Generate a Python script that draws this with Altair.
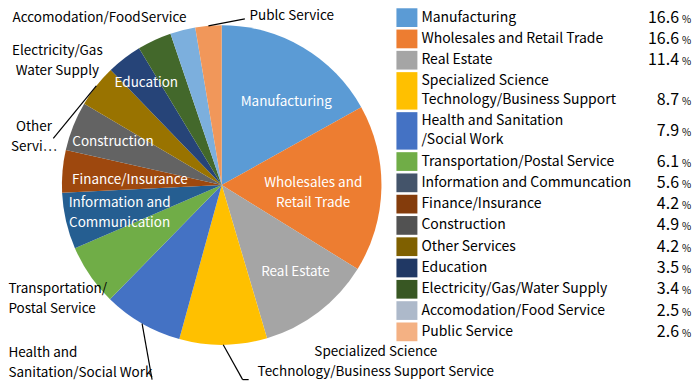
import altair as alt
import pandas as pd

# ---------------- data ----------------
categories = [
    "Manufacturing", "Wholesales and Retail Trade", "Real Estate",
    "Specialized Science Technology/Business Support", "Health and Sanitation/Social Work",
    "Transportation/Postal Service", "Information and Communcation", "Finance/Insurance",
    "Construction", "Other Services", "Education", "Electricity/Gas/Water Supply",
    "Accomodation/Food Service", "Public Service",
]
values = [16.6, 16.6, 11.4, 8.7, 7.9, 6.1, 5.6, 4.2, 4.9, 4.2, 3.5, 3.4, 2.5, 2.6]
legend_labels = [
    "Manufacturing", "Wholesales and Retail Trade", "Real Estate",
    "Specialized Science\nTechnology/Business Support", "Health and Sanitation\n/Social Work",
    "Transportation/Postal Service", "Information and Communcation", "Finance/Insurance",
    "Construction", "Other Services", "Education", "Electricity/Gas/Water Supply",
    "Accomodation/Food Service", "Public Service",
]
pie_labels = [
    "Manufacturing", "Wholesales and\nRetail Trade", "Real Estate",
    "Specialized Science\nTechnology/Business Support Service", "Health and\nSanitation/Social Work",
    "Transportation/\nPostal Service", "Information and\nCommunication", "Finance/Insurance",
    "Construction", "Other\nServi\u2026", "Education", "Electricity/Gas\nWater Supply",
    "Accomodation/FoodService", "Publc Service",
]
pie_colors = ["#5B9BD5", "#ED7D31", "#A5A5A5", "#FFC000", "#4472C4", "#70AD47", "#255E91",
              "#9E480E", "#636363", "#997300", "#264478", "#43682B", "#7CAFDD", "#F1975A"]
legend_colors = ["#5B9BD5", "#ED7D31", "#A5A5A5", "#FFC000", "#4472C4", "#70AD47", "#44546A",
                 "#843C0C", "#525252", "#7F6000", "#203864", "#385723", "#ADB9CA", "#F4B183"]

# ---------------- styles (label placement relative to slice middle) ----------------
# kind: in = white inside label, out = centred outside label, outl = left-aligned outside label
label_kind = ["in", "in", "in", "out", "outl", "outl", "in", "in", "in", "out", "in", "out", "out", "out"]
label_off = [7.6, 3.7, -3.0, -40.5, 20.3, 6.4, -2.4, -1.85, -0.1, -24.0, 1.1, -28.1, -22.1, 27.3]
label_rad = [105, 92, 114, 235, 278, 242, 106, 92, 117, 194, 127, 206, 207, 183]
leader_off = [0, 0, 0, -5.6, -10.2, 0, 0, 0, 0, -22.8, 0, 0, 0, 12.7]
leader_rad = [0, 0, 0, 196, 207, 0, 0, 0, 0, 175, 0, 0, 0, 168]
leader_tail = [0, 0, 0, 6, 0, 0, 0, 0, 0, 0, 0, 0, 0, 0]
pct_bottom = [0, 0, 0, 1, 0, 0, 0, 0, 0, 0, 0, 0, 0, 0]

CX, CY, R = 214, 177, 160
FONT = "Noto Sans CJK JP"
PIE_LH = 20      # line height of pie labels
LEG_LH = 19      # line height of legend labels

df = pd.DataFrame({
    "category": categories, "value": values, "order": list(range(len(categories))),
    "pie_label": pie_labels, "legend_label": legend_labels,
    "kind": label_kind, "loff": label_off, "lr": label_rad,
    "eoff": leader_off, "er": leader_rad, "tail": leader_tail, "pbot": pct_bottom,
})
df["pie_lines"] = [lab.count("\n") + 1 for lab in pie_labels]

# legend row geometry in "line units"
LH = 336
nlines = [lab.count("\n") + 1 for lab in legend_labels]
units = [1 + 0.88 * (n - 1) for n in nlines]
y0 = []
acc = 0.0
for u in units:
    y0.append(acc)
    acc += u
TOTAL_UNITS = acc
px_per_unit = LH / TOTAL_UNITS
df["y0"] = y0
df["y1"] = [a + u - 0.12 for a, u in zip(y0, units)]
df["ymid"] = [(a + b) / 2 for a, b in zip(df["y0"], df["y1"])]
df["ytext"] = [m - (n - 1) * LEG_LH / 2 / px_per_unit for m, n in zip(df["ymid"], nlines)]
df["ypct"] = [b - 0.5 + 0.06 if p else m for b, m, p in zip(df["y1"], df["ymid"], df["pbot"])]

pie_color = alt.Color("category:N", scale=alt.Scale(domain=categories, range=pie_colors), legend=None)

base = alt.Chart(df)

pie = base.mark_arc(radius=R).encode(
    theta=alt.Theta("value:Q", stack=True),
    order=alt.Order("order:Q"),
    color=pie_color,
    x=alt.value(CX), y=alt.value(CY),
)

geo = base.transform_window(
    cum="sum(value)", sort=[alt.SortField("order")], frame=[None, 0]
).transform_joinaggregate(
    total="sum(value)"
).transform_calculate(
    mid="(datum.cum - datum.value/2) / datum.total * 2 * PI"
).transform_calculate(
    lx=f"{CX} + datum.lr * sin(datum.mid + datum.loff * PI / 180)",
    ly=f"{CY} - datum.lr * cos(datum.mid + datum.loff * PI / 180) - (datum.pie_lines - 1) * {PIE_LH} / 2",
    ex=f"{CX} + {R} * sin(datum.mid)",
    ey=f"{CY} - {R} * cos(datum.mid)",
    ex2=f"{CX} + datum.er * sin(datum.mid + datum.eoff * PI / 180)",
    ey2=f"{CY} - datum.er * cos(datum.mid + datum.eoff * PI / 180)",
).transform_calculate(
    ex3="datum.ex2 + datum.tail"
)

X = alt.X("lx:Q", scale=None, axis=None)
Y = alt.Y("ly:Q", scale=None, axis=None)

inside = geo.transform_filter("datum.kind == 'in'").mark_text(
    font=FONT, fontSize=13.5, color="white", align="center", baseline="middle", lineBreak="\n", lineHeight=PIE_LH
).encode(x=X, y=Y, text="pie_label:N")

outside = geo.transform_filter("datum.kind == 'out'").mark_text(
    font=FONT, fontSize=13.5, color="black", align="center", baseline="middle", lineBreak="\n", lineHeight=PIE_LH
).encode(x=X, y=Y, text="pie_label:N")

outside_left = geo.transform_filter("datum.kind == 'outl'").mark_text(
    font=FONT, fontSize=13.5, color="black", align="left", baseline="middle", lineBreak="\n", lineHeight=PIE_LH
).encode(x=X, y=Y, text="pie_label:N")

leaders = geo.transform_filter("datum.er > 0").mark_rule(color="black", strokeWidth=1.2).encode(
    x=alt.X("ex:Q", scale=None, axis=None), y=alt.Y("ey:Q", scale=None, axis=None),
    x2="ex2:Q", y2="ey2:Q",
)
tails = geo.transform_filter("datum.tail > 0").mark_rule(color="black", strokeWidth=1.2).encode(
    x=alt.X("ex2:Q", scale=None, axis=None), y=alt.Y("ey2:Q", scale=None, axis=None),
    x2="ex3:Q", y2="ey2:Q",
)

pie_panel = alt.layer(pie, leaders, tails, inside, outside, outside_left).properties(width=380, height=354)

# ---------------- legend table ----------------
ys = alt.Scale(domain=[0, TOTAL_UNITS], range=[0, LH])
leg_color = alt.Color("category:N", scale=alt.Scale(domain=categories, range=legend_colors), legend=None)

swatch = base.mark_rect().encode(
    x=alt.value(0), x2=alt.value(21),
    y=alt.Y("y0:Q", scale=ys, axis=None), y2="y1:Q",
    color=leg_color,
)
leg_text = base.mark_text(
    font=FONT, fontSize=14, align="left", baseline="middle", lineBreak="\n", lineHeight=LEG_LH, color="black"
).encode(x=alt.value(25), y=alt.Y("ytext:Q", scale=ys, axis=None), text="legend_label:N")
pct_num = base.mark_text(
    font=FONT, fontSize=16, align="right", baseline="middle", color="black"
).encode(x=alt.value(283), y=alt.Y("ypct:Q", scale=ys, axis=None), text=alt.Text("value:Q", format=".1f"))
pct_sign = base.mark_text(
    font=FONT, fontSize=10, align="left", baseline="middle", color="black", text="%", dy=2
).encode(x=alt.value(286), y=alt.Y("ypct:Q", scale=ys, axis=None))

legend_panel = alt.layer(swatch, leg_text, pct_num, pct_sign).properties(width=295, height=LH)

chart = alt.hconcat(pie_panel, legend_panel, spacing=9, bounds="flush").resolve_scale(
    color="independent"
).properties(padding=0).configure_view(stroke=None)

chart.save("out.html", embed_options={"renderer": "svg", "actions": False})
